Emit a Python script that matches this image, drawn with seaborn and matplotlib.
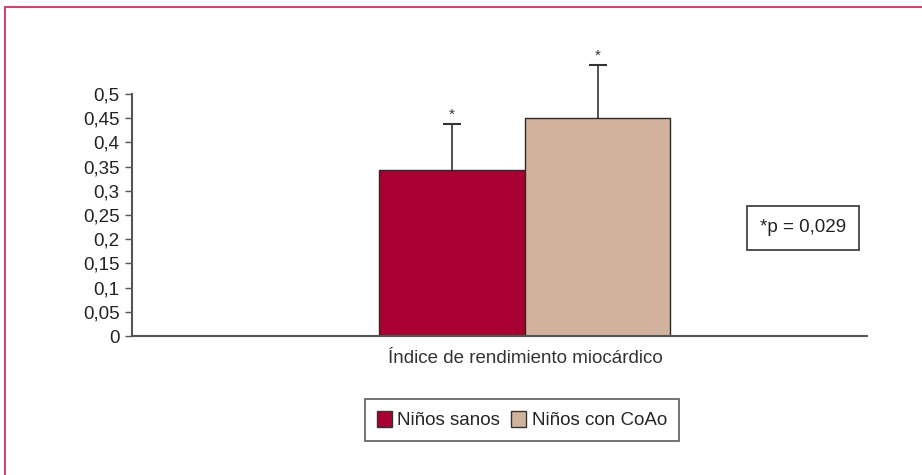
import matplotlib
matplotlib.use("Agg")
import matplotlib.pyplot as plt
from matplotlib.patches import Rectangle, Patch
import seaborn as sns
import pandas as pd
import numpy as np

# data
category = ["Índice de rendimiento miocárdico"]
groups = ["Niños sanos", "Niños con CoAo"]
means = [0.342, 0.451]
errors = [0.095, 0.108]
colors = ["#a80030", "#d1b29d"]
yticks = [0, 0.05, 0.1, 0.15, 0.2, 0.25, 0.3, 0.35, 0.4, 0.45, 0.5]
ytick_labels = ["0", "0,05", "0,1", "0,15", "0,2", "0,25", "0,3", "0,35", "0,4", "0,45", "0,5"]
p_text = "*p = 0,029"

df = pd.DataFrame({"indice": category * len(groups), "grupo": groups, "valor": means})

sns.set_style("white")
plt.rcParams['font.family'] = ['Liberation Sans', 'DejaVu Sans']

fig = plt.figure(figsize=(9.22, 4.75), dpi=100)
ax = fig.add_axes([0.1432, 0.2926, 0.7971, 0.5095])

sns.barplot(data=df, x="indice", y="valor", hue="grupo", palette=colors, saturation=1,
            edgecolor="#2a2a2a", linewidth=1.0, width=0.8, ax=ax, legend=False)

# upper error bars + asterisks
for bar, err in zip(ax.patches, errors):
    cx = bar.get_x() + bar.get_width() / 2
    top = bar.get_height()
    eb = ax.errorbar(cx, top, yerr=[[0], [err]], fmt="none", ecolor="#333333",
                     elinewidth=1.2, capsize=6.5, capthick=1.5, clip_on=False)
    eb[1][0].set_visible(False)  # no cap at the bar top
    ax.text(cx, top + err + 0.006, "*", ha="center", va="bottom", fontsize=11,
            color="#333333", clip_on=False)

ax.set_xlim(-1.08, 0.94)
ax.set_ylim(0, 0.5)
ax.set_yticks(yticks)
ax.set_yticklabels(ytick_labels, fontsize=13.5, color="#222222")
ax.tick_params(axis="y", direction="out", length=5, width=1.0, color="#555555", pad=4, left=True)
ax.tick_params(axis="x", length=0, labelsize=13.5, labelcolor="#333333", pad=10)
ax.set_xlabel("")
ax.set_ylabel("")
for s in ["top", "right"]:
    ax.spines[s].set_visible(False)
for s in ["left", "bottom"]:
    ax.spines[s].set_color("#555555")
    ax.spines[s].set_linewidth(1.5)

# p-value box
fig.text(803 / 922, 1 - 228 / 475, p_text, ha="center", va="center", fontsize=13.5, color="#222222",
         bbox=dict(boxstyle="square,pad=0.7", facecolor="white", edgecolor="#333333", linewidth=1.2))

# legend
handles = [Patch(facecolor=c, edgecolor="#333333", linewidth=1.0) for c in colors]
leg = fig.legend(handles, groups, loc="center", bbox_to_anchor=(522 / 922, 1 - 420 / 475),
                 ncol=2, frameon=True, fancybox=False, fontsize=13.5, handlelength=0.8,
                 handleheight=1.0, handletextpad=0.3, columnspacing=0.6, borderpad=0.6)
leg.get_frame().set_edgecolor("#333333")
leg.get_frame().set_linewidth(1.2)

# crimson frame around the figure (top and left visible)
fig.patches.append(Rectangle((5 / 922, -0.1), 1.2, 1 - 7 / 475 + 0.1, transform=fig.transFigure,
                             fill=False, edgecolor="#c8486e", linewidth=1.5))

fig.savefig("out.png", dpi=100)
